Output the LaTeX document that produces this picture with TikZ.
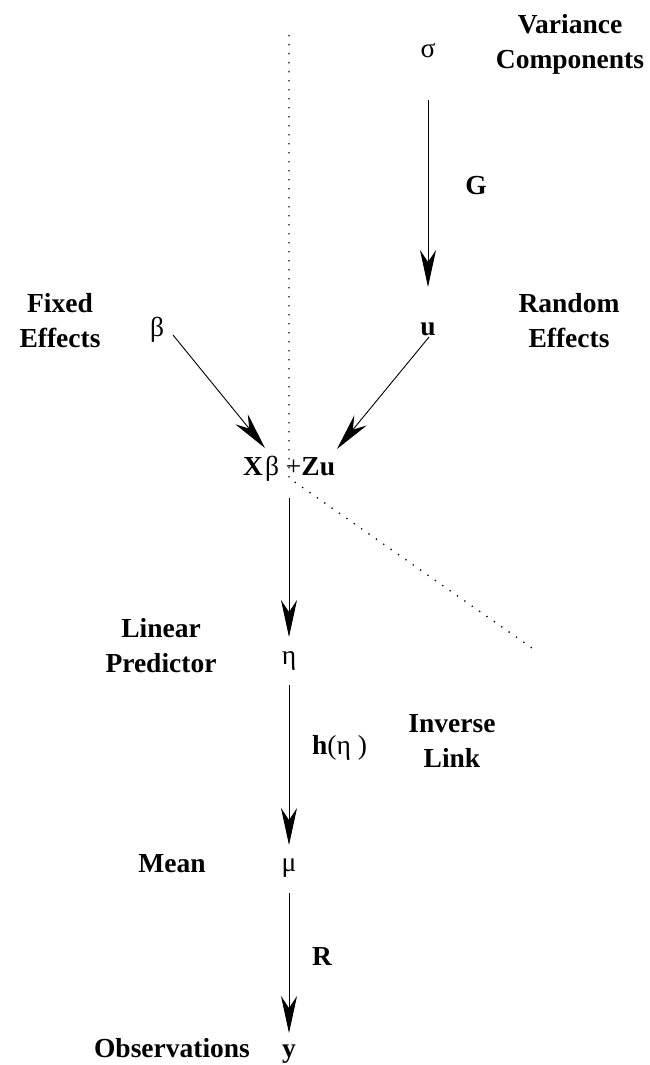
\documentclass[tikz,border=0pt]{standalone}
\usepackage{fontspec}
\setmainfont{Liberation Serif}
\usetikzlibrary{arrows.meta}
\begin{document}
\begin{tikzpicture}[x=1pt,y=-1pt,
  lbl/.style={font=\fontsize{27.5}{35}\selectfont\bfseries, inner sep=0, anchor=base, align=center},
  sym/.style={font=\fontsize{27.5}{35}\selectfont, inner sep=0, anchor=base},
  arr/.style={line width=0.9pt, -{Stealth[length=37pt,width=16pt,inset=12pt]}},
  guide/.style={line width=1.3pt, dash pattern=on 1.3pt off 7.7pt}]
\useasboundingbox (0,0) rectangle (649,1065);
% guide line
\coordinate (gtop) at (289,35);
\coordinate (gbend) at (289,478);
\coordinate (gend) at (532,648);
\draw[guide] (gtop) -- (gbend) -- (gend);
% nodes (two-line labels are placed by their last baseline)
\node[sym] (sigma) at (428,57) {σ};
\node[lbl] (vc) at (570,68) {Variance\\Components};
\node[lbl] (G) at (476,194) {G};
\node[lbl] (u) at (428,335) {u};
\node[lbl] (re) at (569,347) {Random\\Effects};
\node[sym] (beta) at (157,336) {β};
\node[lbl] (fe) at (60,347) {Fixed\\Effects};
\node[sym, anchor=base west] (xz) at (243,475) {\textbf{X}\kern2pt β +\textbf{Zu}};
\node[sym] (eta) at (289,664) {η};
\node[lbl] (lp) at (161,672) {Linear\\Predictor};
\node[sym, anchor=base west] (h) at (312,754) {\textbf{h}(η )};
\node[lbl] (il) at (452,767) {Inverse\\Link};
\node[sym] (mu) at (289,871) {μ};
\node[lbl] (mean) at (172,872) {Mean};
\node[lbl] (R) at (322,965) {R};
\node[lbl] (y) at (289,1057) {y};
\node[lbl] (obs) at (172,1057) {Observations};
% connectors
\draw[arr] ([shift={(0,43)}]sigma.base) -- ([shift={(0,-48)}]u.base);
\draw[arr] ([shift={(16,-1)}]beta.base) -- ([shift={(22,-27)}]xz.base west);
\draw[arr] ([shift={(1,2)}]u.base) -- ([shift={(94,-26)}]xz.base west);
\draw[arr] ([shift={(46,23)}]xz.base west) -- ([shift={(0,-27)}]eta.base);
\draw[arr] ([shift={(0,21)}]eta.base) -- ([shift={(0,-26)}]mu.base);
\draw[arr] ([shift={(0,22)}]mu.base) -- ([shift={(0,-24)}]y.base);
\end{tikzpicture}
\end{document}
